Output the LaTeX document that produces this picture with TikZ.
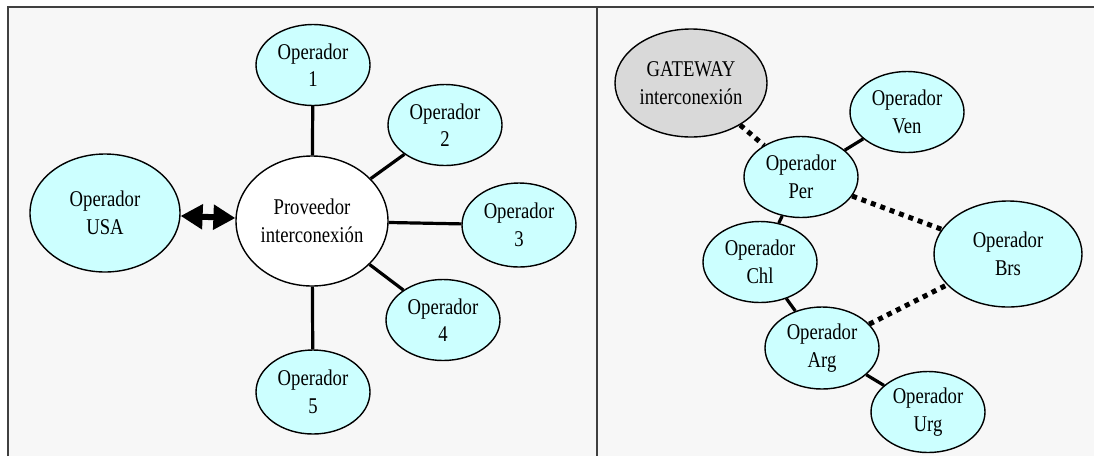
\documentclass[tikz,border=0pt]{standalone}
\usepackage{fontspec}
\setmainfont{Liberation Serif}[FakeStretch=0.83]
\usetikzlibrary{arrows.meta,shapes.geometric}
\definecolor{cyanfill}{HTML}{CCFFFF}
\definecolor{grayfill}{HTML}{D9D9D9}
\definecolor{panelbg}{HTML}{F7F7F7}
\definecolor{framecol}{HTML}{404040}
\tikzset{
  op/.style={ellipse, draw=black, line width=1.4pt, fill=cyanfill, inner sep=0pt,
    align=center, font=\fontsize{22.5}{27.5}\selectfont, minimum width=114pt, minimum height=81pt},
  link/.style={line width=3.2pt},
  dotlink/.style={line width=5pt, dash pattern=on 5pt off 5pt},
}
\begin{document}
\begin{tikzpicture}[x=1pt,y=-1pt]
\useasboundingbox (0,0) rectangle (1094,456);
\fill[white] (0,0) rectangle (1094,456);
\fill[panelbg] (8,7) rectangle (1094,456);
\draw[framecol, line width=2pt] (8,456) -- (8,7) -- (1094,7);
\draw[framecol, line width=2pt] (597,7) -- (597,456);

% left panel
\node[op] (op1) at (313,65) {Operador\\1};
\node[op] (op2) at (445,125) {Operador\\2};
\node[op, minimum width=150pt, minimum height=118pt] (usa) at (105,213) {Operador\\USA};
\node[op, fill=white, minimum width=152pt, minimum height=130pt] (prov) at (312,221) {Proveedor\\interconexión};
\node[op, minimum height=84pt] (op3) at (519,225) {Operador\\3};
\node[op] (op4) at (443,320) {Operador\\4};
\node[op, minimum height=84pt] (op5) at (313,392) {Operador\\5};

\draw[link] (prov) -- (op1);
\draw[link] (prov) -- (op2);
\draw[link] (prov) -- (op3);
\draw[link] (prov) -- (op4);
\draw[link] (prov) -- (op5);
\draw[line width=6pt, {Triangle[length=22pt,width=24pt]}-{Triangle[length=22pt,width=24pt]}] (usa) -- (prov);

% right panel
\node[op, fill=grayfill, minimum width=152pt, minimum height=108pt] (gw) at (691,83) {GATEWAY\\interconexión};
\node[op] (ven) at (907,112) {Operador\\Ven};
\node[op] (per) at (801,177) {Operador\\Per};
\node[op] (chl) at (760,262) {Operador\\Chl};
\node[op, minimum width=148pt, minimum height=106pt] (brs) at (1008,254) {Operador\\Brs};
\node[op, minimum height=82pt] (arg) at (822,348) {Operador\\Arg};
\node[op] (urg) at (928,412) {Operador\\Urg};

\draw[link] (per) -- (ven);
\draw[link] (per) -- (chl);
\draw[link] (chl) -- (arg);
\draw[link] (arg) -- (urg);
\draw[dotlink] (gw) -- (per);
\draw[dotlink] (per) -- (brs);
\draw[dotlink] (arg) -- (brs);
\end{tikzpicture}
\end{document}
